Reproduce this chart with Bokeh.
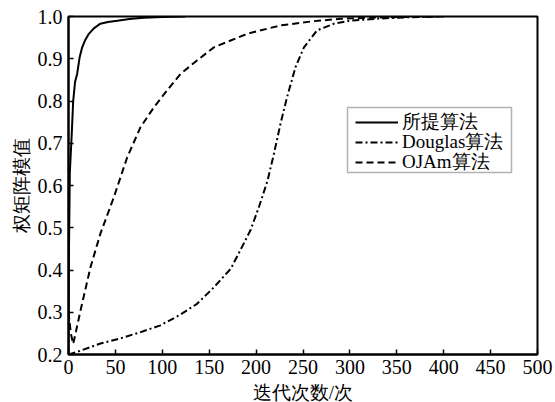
from bokeh.plotting import figure
from bokeh.models import FixedTicker, Legend, LegendItem, BoxAnnotation
from bokeh.embed import file_html
from bokeh.resources import INLINE

# ---- data ----
proposed_x = [0, 0.5, 1.4, 3.2, 5, 7, 9.2, 12, 14.6, 18, 21.7, 27, 34, 42, 52, 65, 80, 100, 125]
proposed_y = [0.2, 0.45, 0.63, 0.71, 0.80, 0.845, 0.864, 0.905, 0.927, 0.945, 0.959, 0.972,
              0.983, 0.987, 0.99, 0.994, 0.997, 0.999, 1.0]

douglas_x = [0, 12.8, 34, 55, 77, 98, 119, 137, 155, 173, 183, 194, 203, 212, 219, 226, 233,
             242, 251, 265, 283, 300, 330, 360, 400]
douglas_y = [0.2, 0.209, 0.226, 0.238, 0.253, 0.269, 0.294, 0.32, 0.359, 0.403, 0.446, 0.494,
             0.549, 0.61, 0.675, 0.746, 0.809, 0.88, 0.927, 0.967, 0.983, 0.99, 0.995, 0.998, 1.0]

ojam_x = [0, 2.5, 5, 8, 12.8, 23.5, 34, 48.3, 62.6, 76.8, 91, 105, 119.4, 137, 155, 190.5,
          226, 261.5, 290, 320, 360, 400]
ojam_y = [0.30, 0.25, 0.225, 0.255, 0.304, 0.407, 0.486, 0.572, 0.667, 0.738, 0.785, 0.825,
          0.864, 0.896, 0.927, 0.959, 0.979, 0.989, 0.9945, 0.997, 0.999, 1.0]

series_names = ["所提算法", "Douglas算法", "OJAm算法"]
x_ticks = [0, 50, 100, 150, 200, 250, 300, 350, 400, 450, 500]
y_ticks = [0.2, 0.3, 0.4, 0.5, 0.6, 0.7, 0.8, 0.9, 1.0]
y_tick_labels = ["0.2", "0.3", "0.4", "0.5", "0.6", "0.7", "0.8", "0.9", "1.0"]
x_title = "迭代次数/次"
y_title = "权矩阵模值"

FONT = "Liberation Serif"

# frame geometry (pixels)
FL, FT, FW, FH = 68, 16, 469, 338
X0, X1, Y0, Y1 = 0, 500, 0.2, 1.0


def dx(px):
    return X0 + (px - FL) / FW * (X1 - X0)


def dy(py):
    return Y1 - (py - FT) / FH * (Y1 - Y0)


p = figure(frame_width=FW, frame_height=FH, output_backend="svg", toolbar_location=None,
           x_range=(X0, X1), y_range=(Y0, Y1),
           min_border_left=FL, min_border_right=555 - FL - FW, min_border_top=FT,
           min_border_bottom=402 - FT - FH)
p.background_fill_color = "white"
p.border_fill_color = "white"
p.outline_line_color = "black"
p.outline_line_width = 2
p.xgrid.visible = False
p.ygrid.visible = False

for ax, ticks in ((p.xaxis[0], x_ticks), (p.yaxis[0], y_ticks)):
    ax.ticker = FixedTicker(ticks=ticks)
    ax.axis_line_width = 2
    ax.axis_line_color = "black"
    ax.major_tick_in = 5
    ax.major_tick_out = 0
    ax.major_tick_line_width = 1.5
    ax.minor_tick_in = 0
    ax.minor_tick_out = 0
    ax.major_label_text_font = FONT
    ax.major_label_text_font_size = "20px"
    ax.major_label_text_color = "black"
    ax.axis_label_text_font = FONT
    ax.axis_label_text_font_size = "19px"
    ax.axis_label_text_font_style = "normal"
    ax.axis_label_text_color = "black"

p.yaxis[0].major_label_overrides = {t: l for t, l in zip(y_ticks, y_tick_labels)}
p.xaxis[0].axis_label = x_title
p.yaxis[0].axis_label = y_title
p.xaxis[0].major_label_standoff = 5
p.xaxis[0].axis_label_standoff = 5
p.yaxis[0].major_label_standoff = 6
p.yaxis[0].axis_label_standoff = 3

r1 = p.line(proposed_x, proposed_y, line_color="black", line_width=2)
r2 = p.line(douglas_x, douglas_y, line_color="black", line_width=2, line_dash="7 3 2 3")
r3 = p.line(ojam_x, ojam_y, line_color="black", line_width=2, line_dash="7 4")

# legend frame
box = BoxAnnotation(left=dx(347), right=dx(511), top=dy(107), bottom=dy(172),
                    fill_color="white", fill_alpha=1, line_color="black", line_width=1.5)
p.add_layout(box)

# one legend per row so rows sit 20 px apart like the reference
row_centres = [122, 142, 162]
ITEM_H = 26
for name, rend, c in zip(series_names, [r1, r2, r3], row_centres):
    lg = Legend(items=[LegendItem(label=name, renderers=[rend])],
                location=(355 - FL, FT + FH - c - ITEM_H / 2))
    lg.margin = 0
    lg.padding = 0
    lg.spacing = 0
    lg.glyph_width = 43
    lg.glyph_height = 18
    lg.label_height = 18
    lg.label_standoff = 4
    lg.label_text_font = FONT
    lg.label_text_font_size = "19px"
    lg.label_text_color = "black"
    lg.border_line_alpha = 0
    lg.background_fill_alpha = 0
    p.add_layout(lg, "center")

open("out.html", "w").write(file_html(p, INLINE))
